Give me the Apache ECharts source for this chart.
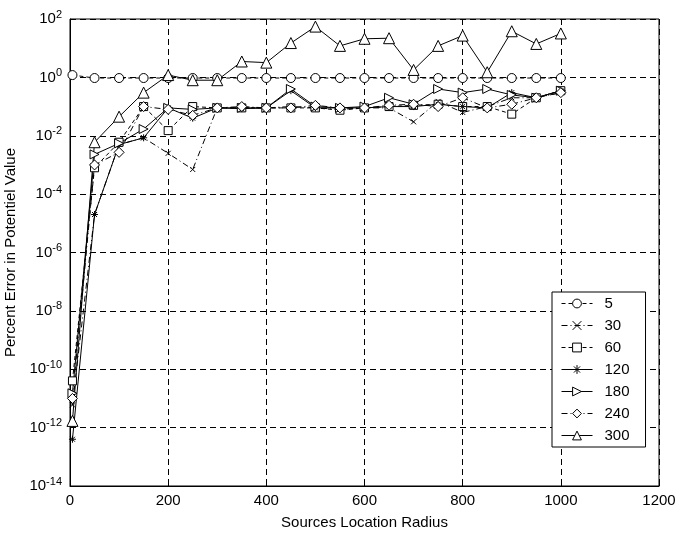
<!DOCTYPE html>
<html>
<head>
<meta charset="utf-8">
<script src="https://cdn.jsdelivr.net/npm/echarts@6/dist/echarts.min.js"></script>
<style>html,body{margin:0;padding:0;background:#fff}#c{width:681px;height:538px}</style>
</head>
<body>
<div id="c"></div>
<script>
var radius = [5,50,100,150,200,250,300,350,400,450,500,550,600,650,700,750,800,850,900,950,1000];
var seriesNames = ['5','30','60','120','180','240','300'];
var s5   = [1.2,0.95,0.95,0.95,0.95,0.95,0.95,0.95,0.95,0.95,0.95,0.95,0.95,0.95,0.95,0.95,0.95,0.95,0.95,0.95,0.95];
var s30  = [6e-12,2e-5,5e-3,8.5e-3,2.5e-3,7e-4,0.09,0.09,0.09,0.1,0.09,0.08,0.09,0.09,0.03,0.15,0.063,0.1,0.2,0.2,0.3];
var s60  = [4e-11,8e-4,6e-3,0.1,0.015,0.1,0.09,0.09,0.09,0.09,0.09,0.075,0.09,0.1,0.11,0.12,0.1,0.1,0.055,0.2,0.35];
var s120 = [4e-13,2e-5,5e-3,8.5e-3,0.09,0.04,0.09,0.085,0.09,0.35,0.09,0.09,0.09,0.1,0.1,0.12,0.1,0.09,0.3,0.2,0.35];
var s180 = [1.5e-11,2.3e-3,5.5e-3,0.017,0.09,0.08,0.09,0.09,0.09,0.4,0.1,0.09,0.1,0.2,0.12,0.4,0.3,0.4,0.25,0.2,0.35];
var s240 = [1e-11,1e-3,2.7e-3,0.1,0.08,0.05,0.09,0.1,0.09,0.09,0.11,0.09,0.09,0.11,0.12,0.1,0.2,0.09,0.12,0.2,0.3];
var s300 = [1.7e-12,6e-3,0.045,0.3,1.2,0.8,0.8,3.5,3.2,15,55,12,21,22,1.8,12,27,1.5,38,14,32];
var xTicks = [0,200,400,600,800,1000,1200];

var FONT = 'Liberation Sans';
var symX = 'path://M0,0L10,10M10,0L0,10';
var symStar = 'path://M5,0L5,10M0,5L10,5M1.5,1.5L8.5,8.5M8.5,1.5L1.5,8.5';
var symRT = 'path://M0,0L10,5L0,10Z';
var dashDot = [6,3,1,3];

var defs = [
  {name:'5',   data:s5,   symbol:'circle',  size:9,  line:[4,3]},
  {name:'30',  data:s30,  symbol:symX,      size:5,  line:dashDot},
  {name:'60',  data:s60,  symbol:'rect',    size:8,  line:[4,3]},
  {name:'120', data:s120, symbol:symStar,   size:7,  line:'solid'},
  {name:'180', data:s180, symbol:symRT,     size:9,  line:'solid'},
  {name:'240', data:s240, symbol:'diamond', size:10, line:dashDot},
  {name:'300', data:s300, symbol:'triangle',size:11, line:'solid'}
];

var series = defs.map(function(d){
  return {
    name: d.name, type:'line',
    data: radius.map(function(x,i){ return [x, d.data[i]]; }),
    symbol: d.symbol, symbolSize: d.size, showAllSymbol:true,
    lineStyle:{color:'#000', width:1, type:d.line},
    itemStyle:{color:'#fff', borderColor:'#000', borderWidth:1},
    emphasis:{disabled:true},
    animation:false
  };
});

var chart = echarts.init(document.getElementById('c'), null, {renderer:'canvas'});
chart.setOption({
  animation:false,
  backgroundColor:'#fff',
  grid:{left:70, right:22, top:19, bottom:52, containLabel:false, outerBoundsMode:'none',
        show:true, borderColor:'#000', borderWidth:1, backgroundColor:'transparent'},
  legend:{
    orient:'vertical', left:552, top:292,
    data: seriesNames,
    backgroundColor:'#fff', borderColor:'#000', borderWidth:1,
    padding:[4,16,4,9], itemWidth:31, itemHeight:11, itemGap:7,
    itemStyle:{borderWidth:1, borderColor:'#000', color:'#fff'},
    lineStyle:{width:1, color:'#000'},
    textStyle:{fontFamily:FONT, fontSize:15, color:'#000', lineHeight:14, padding:[0,0,0,7]}
  },
  xAxis:{
    type:'value', min:0, max:1200, interval:200,
    name:'Sources Location Radius', nameLocation:'middle', nameGap:29,
    nameTextStyle:{fontFamily:FONT, fontSize:15, color:'#000'},
    axisLine:{show:true, lineStyle:{color:'#000'}},
    axisTick:{show:true, inside:true, length:5, lineStyle:{color:'#000'}},
    axisLabel:{fontFamily:FONT, fontSize:15, color:'#000', margin:7,
      formatter:function(v){ return String(v); }},
    splitLine:{show:true, lineStyle:{color:'#000', type:[6,4], width:1}}
  },
  yAxis:{
    type:'log', logBase:10, min:1e-14, max:1e2, interval:2,
    name:'Percent Error in Potentiel Value', nameLocation:'middle', nameGap:45,
    nameTextStyle:{fontFamily:FONT, fontSize:15, color:'#000'},
    axisLine:{show:true, lineStyle:{color:'#000'}},
    axisTick:{show:true, inside:true, length:5, lineStyle:{color:'#000'}},
    axisLabel:{
      margin:8, color:'#000',
      formatter:function(v){ var e = Math.round(Math.log10(v)); return '{b|10}{e|' + e + '}'; },
      rich:{
        b:{fontFamily:FONT, fontSize:15, color:'#000'},
        e:{fontFamily:FONT, fontSize:11, color:'#000', padding:[0,0,9,0]}
      }
    },
    splitLine:{show:true, lineStyle:{color:'#000', type:[6,4], width:1}}
  },
  series: series
});
</script>
</body>
</html>
